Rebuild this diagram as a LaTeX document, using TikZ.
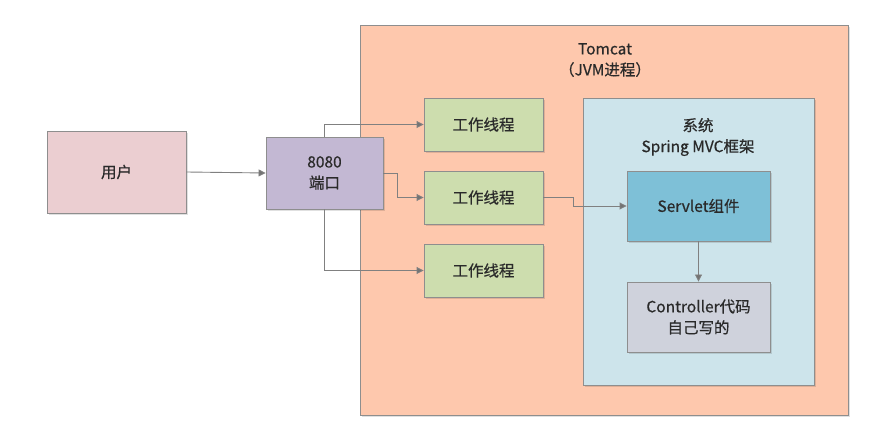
\documentclass[tikz,border=0pt]{standalone}
\usepackage{fontspec}
\setmainfont{Noto Sans CJK SC}[FakeBold=0.6,BoldFont={Noto Sans CJK SC}]
\usetikzlibrary{arrows.meta,shadows}
\definecolor{userc}{HTML}{EBCED1}
\definecolor{portc}{HTML}{C3B8D3}
\definecolor{tomc}{HTML}{FEC8AD}
\definecolor{workc}{HTML}{CDDDAE}
\definecolor{sysc}{HTML}{CDE4EB}
\definecolor{servc}{HTML}{7EC0D7}
\definecolor{ctrlc}{HTML}{CFD2DC}
\definecolor{edgec}{HTML}{8E8E8E}
\definecolor{txtc}{HTML}{2A2A2A}
\begin{document}
\begin{tikzpicture}[x=1pt,y=-1pt,
  lbl/.style={text=txtc,font=\fontsize{15.5}{21}\selectfont\bfseries,align=center},
  box/.style={draw=edgec,line width=0.9pt,inner sep=0pt,lbl,
    drop shadow={shadow xshift=2pt,shadow yshift=-2pt,fill=black,opacity=0.12}},
  conn/.style={draw=edgec!90!black,line width=0.9pt,-{Triangle[length=7pt,width=7pt,fill=gray!90!black]}}]
\useasboundingbox (0,0) rectangle (876,438);
% outer boxes
\node[box,fill=tomc,minimum width=488pt,minimum height=390pt,anchor=north west] (tom) at (360,25) {};
\node[lbl] (tomt) at (605,60) {Tomcat\\（JVM进程）};
\node[box,fill=sysc,minimum width=231pt,minimum height=287pt,anchor=north west] (sys) at (583,98) {};
\node[lbl] (syst) at (698,137) {系统\\Spring MVC框架};
% nodes
\node[box,fill=userc,minimum width=139pt,minimum height=82pt] (user) at (116.5,172) {用户};
\node[box,fill=portc,minimum width=117pt,minimum height=72pt] (port) at (324.5,173) {8080\\端口};
\node[box,fill=workc,minimum width=119pt,minimum height=53pt] (w1) at (483.5,124.5) {工作线程};
\node[box,fill=workc,minimum width=119pt,minimum height=53pt] (w2) at (483.5,197.5) {工作线程};
\node[box,fill=workc,minimum width=119pt,minimum height=53pt] (w3) at (483.5,270.5) {工作线程};
\node[box,fill=servc,minimum width=143pt,minimum height=70pt] (serv) at (698.5,206) {Servlet组件};
\node[box,fill=ctrlc,minimum width=143pt,minimum height=70pt] (ctrl) at (698.5,317) {Controller代码\\自己写的};
% connectors
\draw[conn] (user.east) -- (port.west);
\draw[conn] (port.north) |- (w1.west);
\draw[conn] (port.east) -- ++(14,0) |- (w2.west);
\draw[conn] (port.south) |- (w3.west);
\draw[conn] (w2.east) -- ++(30,0) |- (serv.west);
\draw[conn] (serv.south) -- (ctrl.north);
\end{tikzpicture}
\end{document}
